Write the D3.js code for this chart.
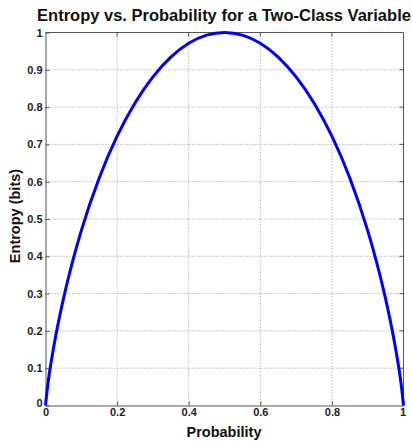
<!DOCTYPE html>
<html><head><meta charset="utf-8">
<script src="https://cdn.jsdelivr.net/npm/d3@7"></script>
<style>body{margin:0;background:#fff;} text{font-family:"Liberation Sans",Arial,sans-serif;}</style>
</head><body>
<svg id="c" width="412" height="441"></svg>
<script>
const probability = [0,0.005,0.01,0.02,0.03,0.05,0.075,0.1,0.15,0.2,0.25,0.3,0.35,0.4,0.45,0.5,0.55,0.6,0.65,0.7,0.75,0.8,0.85,0.9,0.925,0.95,0.97,0.98,0.99,0.995,1];
const entropy = [0,0.045,0.081,0.141,0.194,0.286,0.384,0.469,0.610,0.722,0.811,0.881,0.934,0.971,0.993,1,0.993,0.971,0.934,0.881,0.811,0.722,0.610,0.469,0.384,0.286,0.194,0.141,0.081,0.045,0];
const xTicks = [0,0.2,0.4,0.6,0.8,1];
const yTicks = [0,0.1,0.2,0.3,0.4,0.5,0.6,0.7,0.8,0.9,1];
const title = "Entropy vs. Probability for a Two-Class Variable";
const xLabel = "Probability", yLabel = "Entropy (bits)";

const svg = d3.select("#c");
const L=45.5, R=403.5, T=32.5, B=405.5;
const x = d3.scaleLinear().domain([0,1]).range([L,R]);
const y = d3.scaleLinear().domain([0,1]).range([B,T]);

// grid
const g = svg.append("g");
g.selectAll(".gx").data(xTicks.slice(1,-1)).join("line")
 .attr("x1",d=>x(d)).attr("x2",d=>x(d)).attr("y1",T).attr("y2",B)
 .attr("stroke","#999").attr("stroke-width",1).attr("stroke-dasharray","1,2");
g.selectAll(".gy").data(yTicks.slice(1,-1)).join("line")
 .attr("y1",d=>y(d)).attr("y2",d=>y(d)).attr("x1",L).attr("x2",R)
 .attr("stroke","#999").attr("stroke-width",1).attr("stroke-dasharray","1,2");

// axes
const xa = svg.append("g").attr("transform",`translate(0,${B})`)
 .call(d3.axisBottom(x).tickValues(xTicks).tickFormat(d3.format("")).tickSizeInner(-4).tickSizeOuter(0));
const ya = svg.append("g").attr("transform",`translate(${L},0)`)
 .call(d3.axisLeft(y).tickValues(yTicks).tickFormat(d3.format("")).tickSizeInner(-4).tickSizeOuter(0));
[xa,ya].forEach(a=>{
  a.select(".domain").attr("stroke","#555");
  a.selectAll(".tick line").attr("stroke","#555");
  a.selectAll("text").attr("font-size","11px").attr("font-weight","bold").attr("fill","#222");
});
xa.selectAll("text").attr("dy","0.71em").attr("y",3);
ya.selectAll("text").attr("x",-3).attr("dy","0.32em");
ya.selectAll(".tick").filter(d=>d===0).select("text").attr("dy","0.05em");
xa.selectAll(".tick").filter(d=>d===1).select("text").attr("dx","-1");

// top/right box
svg.append("line").attr("x1",L).attr("x2",R).attr("y1",T).attr("y2",T).attr("stroke","#555");
svg.append("line").attr("x1",R).attr("x2",R).attr("y1",T).attr("y2",B).attr("stroke","#555");
svg.selectAll(".tt").data(xTicks.slice(1,-1)).join("line")
 .attr("x1",d=>x(d)).attr("x2",d=>x(d)).attr("y1",T).attr("y2",T+4).attr("stroke","#555");
svg.selectAll(".tr").data(yTicks.slice(1,-1)).join("line")
 .attr("y1",d=>y(d)).attr("y2",d=>y(d)).attr("x1",R).attr("x2",R-4).attr("stroke","#555");

// curve
const pts = probability.map((p,i)=>[p,entropy[i]]);
svg.append("path").datum(pts)
 .attr("d",d3.line().x(d=>x(d[0])).y(d=>y(d[1])).curve(d3.curveMonotoneX))
 .attr("fill","none").attr("stroke","#0000ff").attr("stroke-width",3);

// labels
svg.append("text").attr("x",224).attr("y",21).attr("text-anchor","middle")
 .attr("font-size","16.5px").attr("font-weight","bold").attr("fill","#111").text(title);
svg.append("text").attr("x",224).attr("y",437).attr("text-anchor","middle")
 .attr("font-size","14.5px").attr("font-weight","bold").attr("fill","#111").text(xLabel);
svg.append("text").attr("transform",`translate(20,216) rotate(-90)`).attr("text-anchor","middle")
 .attr("font-size","14.5px").attr("font-weight","bold").attr("fill","#111").text(yLabel);
</script>
</body></html>
